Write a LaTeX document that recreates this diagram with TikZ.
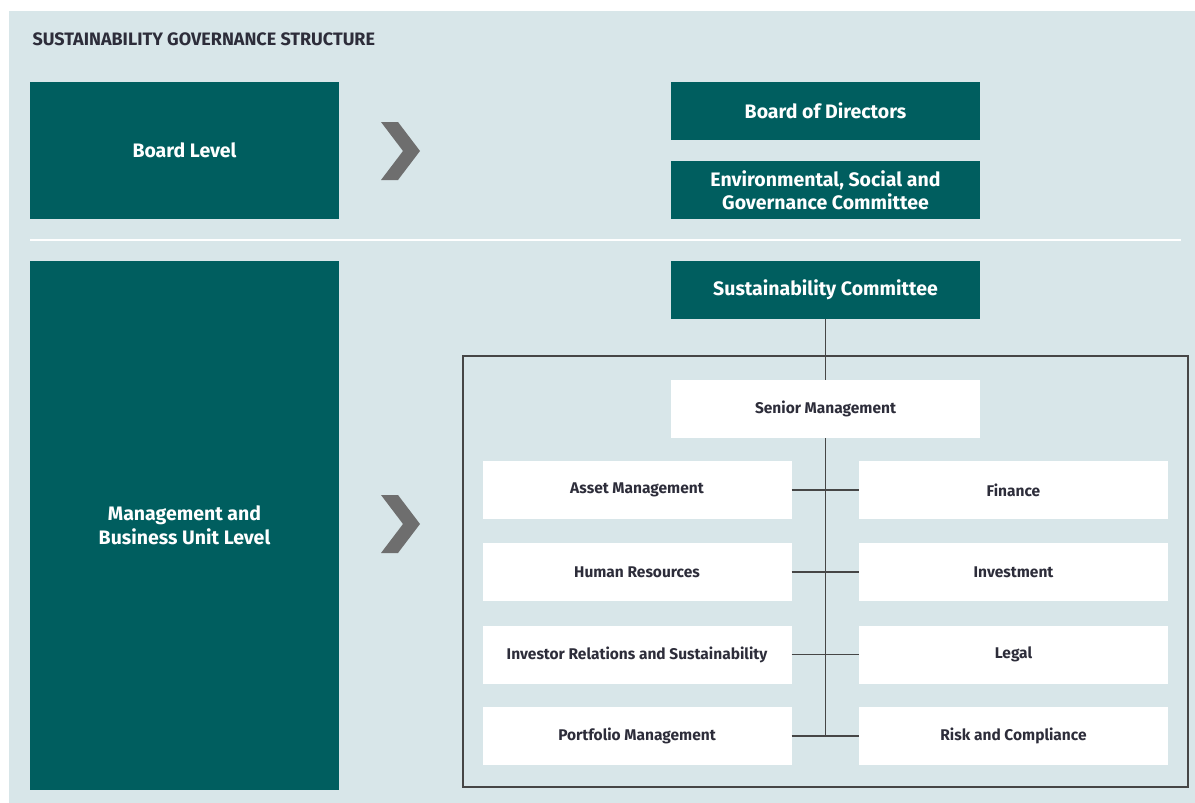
\documentclass[tikz,border=0pt]{standalone}
\usepackage{fontspec}
\setmainfont{Fira Sans}
\usepackage{tikz}
\usetikzlibrary{positioning, calc}
\definecolor{govteal}{RGB}{0, 94, 95}
\definecolor{govback}{RGB}{216, 230, 233}
\definecolor{govgray}{RGB}{110, 110, 110}
\definecolor{govtext}{RGB}{45, 45, 58}
\definecolor{govline}{RGB}{70, 70, 70}

\tikzset{
  levelbox/.style={fill=govteal, text=white, font=\bfseries\fontsize{19.5}{23.5}\selectfont,
    align=center, inner sep=0pt, minimum width=309pt},
  tealbox/.style={levelbox, minimum height=58pt},
  unitbox/.style={fill=white, text=govtext, font=\bfseries\fontsize{15.5}{18}\selectfont,
    align=center, inner sep=0pt, minimum width=309pt, minimum height=58pt},
  orgline/.style={draw=govline, line width=1.3pt},
}

\begin{document}
\begin{tikzpicture}[x=1pt, y=-1pt]
  \useasboundingbox (0,0) rectangle (1195,803);
  \fill[govback] (9,11) rectangle (1195,803);
  \node[anchor=west, text=govtext, font=\bfseries\fontsize{18}{21}\selectfont] (title) at (29,39) {SUSTAINABILITY GOVERNANCE STRUCTURE};

  % levels
  \node[levelbox, minimum height=137pt] (boardlvl) at (184.5,150.5) {Board Level};
  \node[levelbox, minimum height=529pt] (mgmtlvl) at (184.5,525.5) {Management and\\Business Unit Level};
  \draw[white, line width=1.5pt] (30,240) -- (1181,240);
  \foreach \cy in {151,524}
    \fill[govgray] (381,\cy-29) -- (398,\cy-29) -- (420,\cy) -- (398,\cy+29) -- (381,\cy+29) -- (403,\cy) -- cycle;

  % board
  \node[tealbox] (bod) at (825.5,111) {Board of Directors};
  \node[tealbox, below=21pt of bod] (esg) {Environmental, Social and\\Governance Committee};

  % management
  \node[tealbox] (sc) at (825.5,290) {Sustainability Committee};
  \draw[govline, line width=1.3pt] (463,356) rectangle (1188,787);
  \node[unitbox] (senior) at (825.5,409) {Senior Management};
  \node[unitbox] (asset) at (637,490) {Asset Management};
  \node[unitbox] (hr) at (637,572) {Human Resources};
  \node[unitbox] (irs) at (637,654.5) {Investor Relations and Sustainability};
  \node[unitbox] (portfolio) at (637,736) {Portfolio Management};
  \node[unitbox] (finance) at (1013.5,490) {Finance};
  \node[unitbox] (invest) at (1013.5,572) {Investment};
  \node[unitbox] (legal) at (1013.5,654.5) {Legal};
  \node[unitbox] (risk) at (1013.5,736) {Risk and Compliance};

  \coordinate (spine) at (senior.south |- portfolio.east);
  \draw[orgline] (sc.south) -- (senior.north);
  \draw[orgline] (senior.south) -- (spine);
  \foreach \l/\r in {asset/finance, hr/invest, irs/legal, portfolio/risk}
    \draw[orgline] (\l.east) -- (\r.west);
\end{tikzpicture}
\end{document}
